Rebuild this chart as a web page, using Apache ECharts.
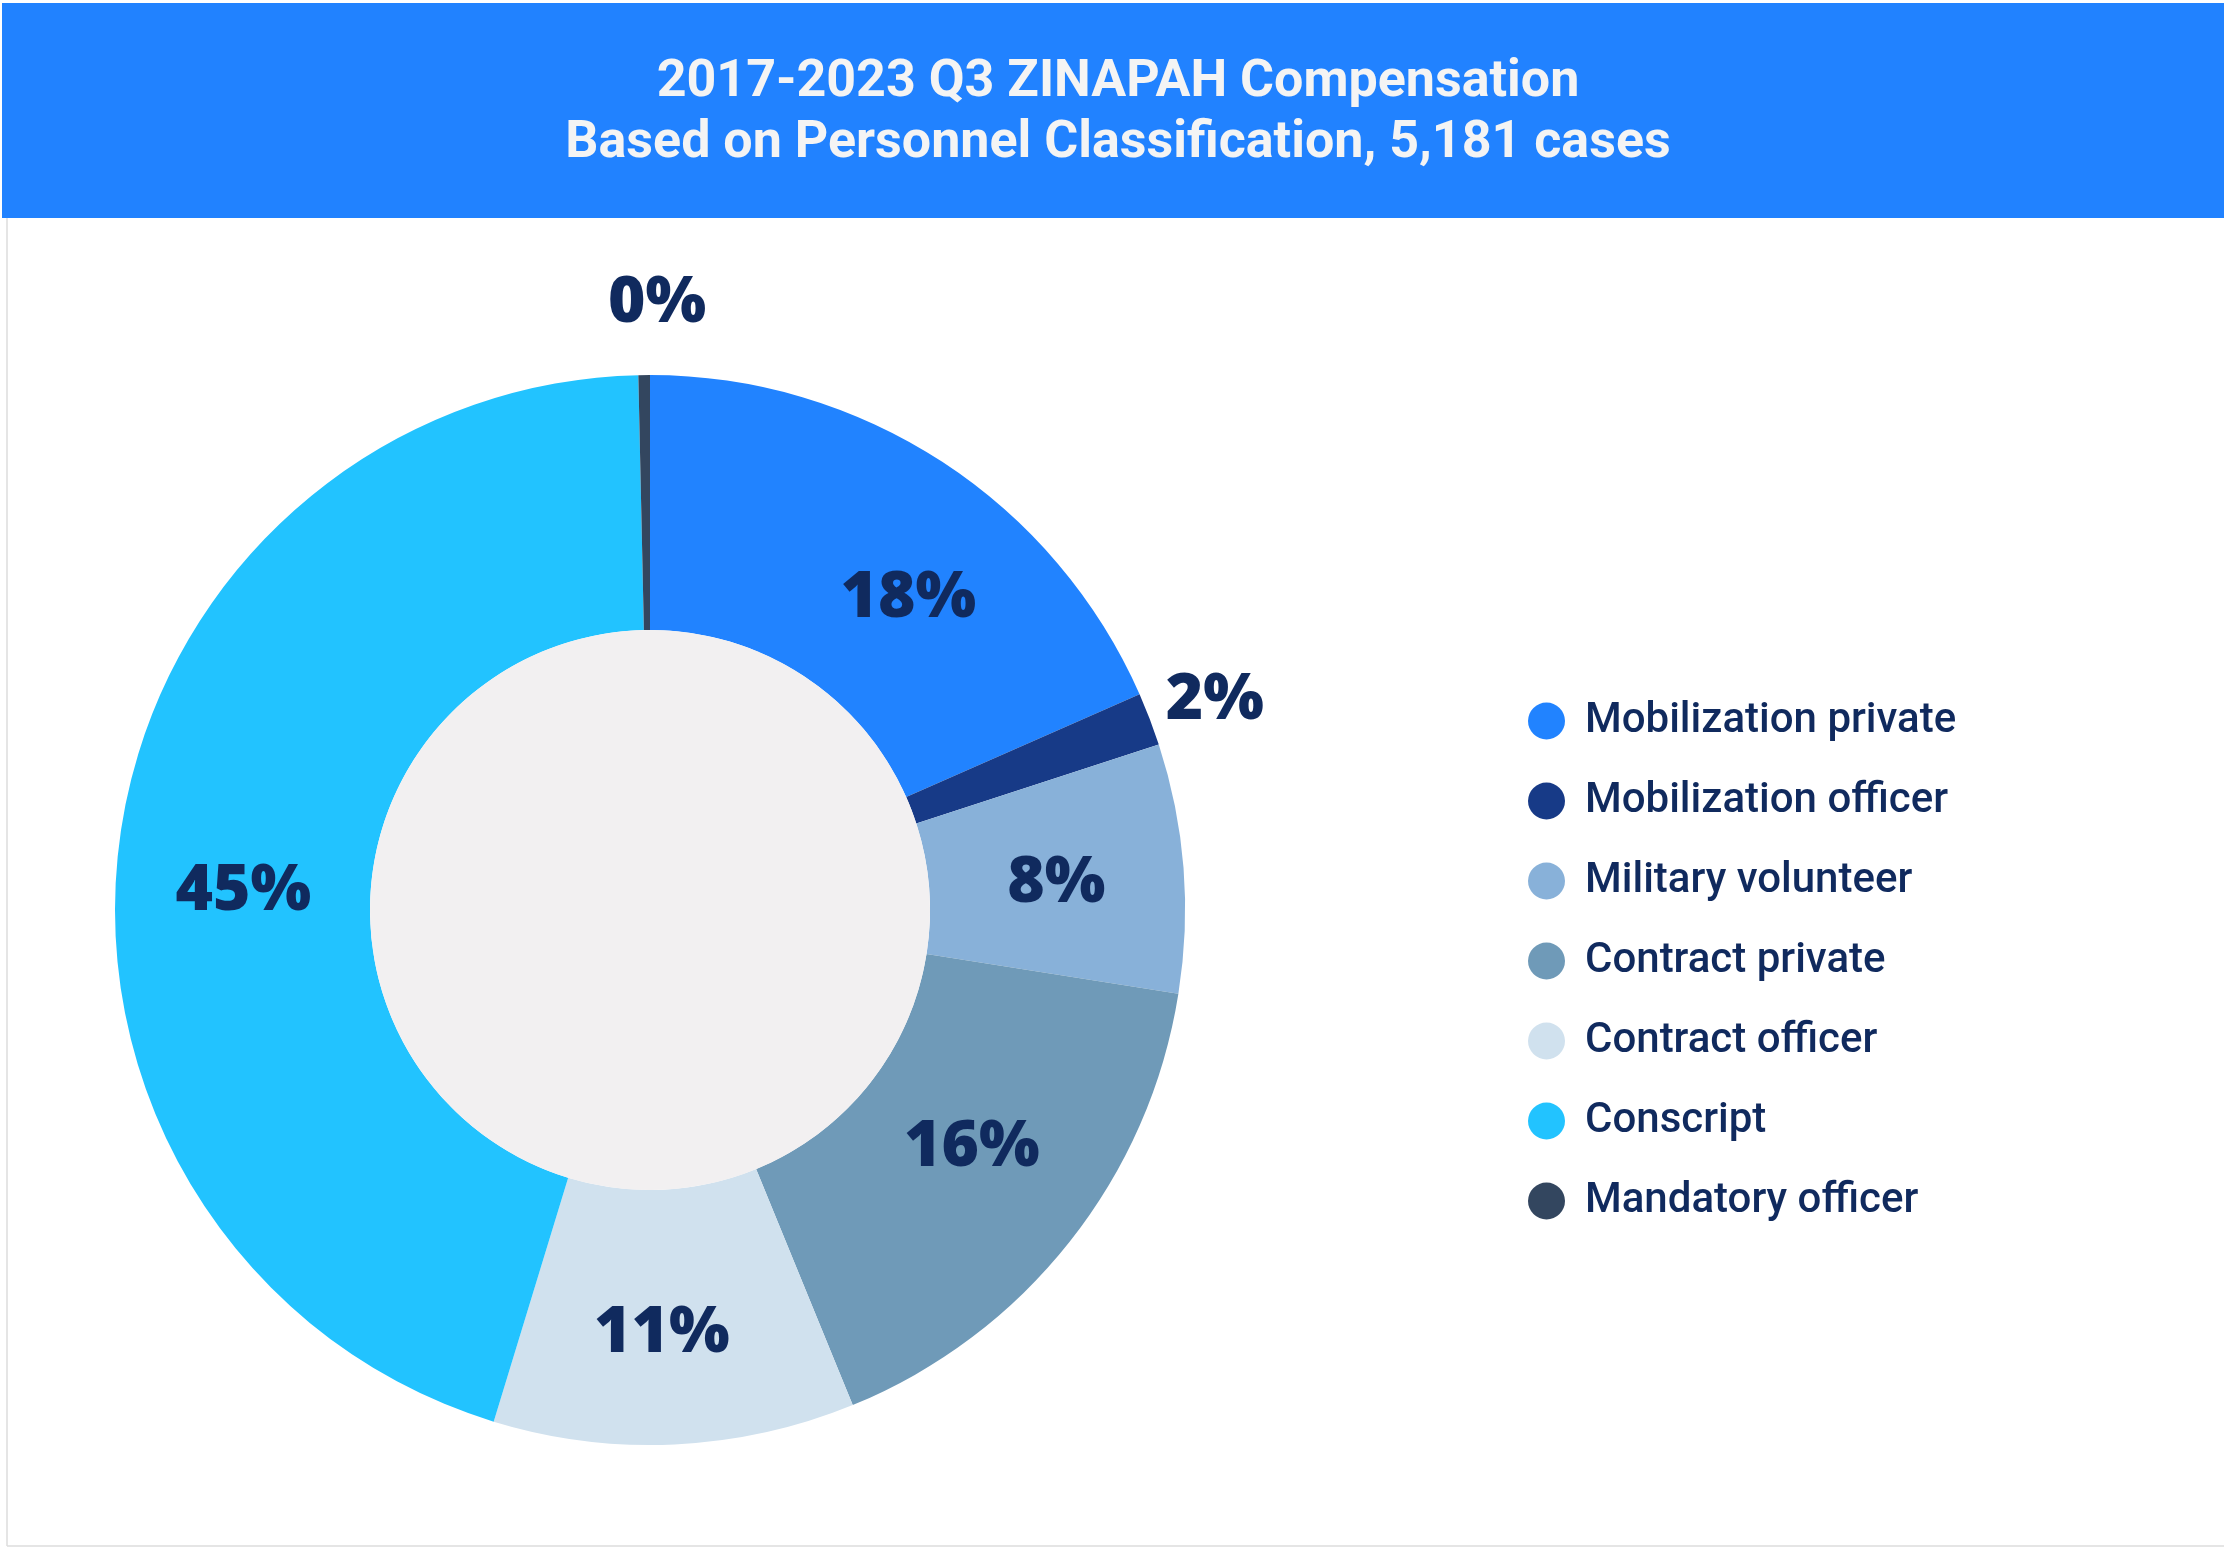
<!DOCTYPE html>
<html>
<head>
<meta charset="utf-8">
<script src="https://cdn.jsdelivr.net/npm/echarts@6/dist/echarts.min.js"></script>
<style>
html,body{margin:0;padding:0;background:#ffffff;}
#chart{width:2224px;height:1547px;}
</style>
</head>
<body>
<div id="chart"></div>
<script>
// ---- data ----
const titleLines = ['2017-2023 Q3 ZINAPAH Compensation', 'Based on Personnel Classification, 5,181 cases'];
const categories = ['Mobilization private', 'Mobilization officer', 'Military volunteer', 'Contract private', 'Contract officer', 'Conscript', 'Mandatory officer'];
const caseCounts = [953, 83, 389, 845, 565, 2328, 18];
const sliceColors = ['#2183FF', '#173A87', '#88B1D9', '#6F9AB8', '#D0E1EE', '#22C3FF', '#33465F'];
const outsideLabelCategories = ['Mobilization officer', 'Mandatory officer'];

// ---- styling ----
const navy = '#102A5E';
const labelTweaks = {
  'Mobilization private': { dx: 34, dy: 33 },
  'Mobilization officer': { dx: 60, dy: -18, align: 'center' },
  'Military volunteer': { dx: -3, dy: 6 },
  'Contract private': { dx: 0, dy: -17 },
  'Contract officer': { dx: -7, dy: 14 },
  'Conscript': { dx: 0, dy: 38 },
  'Mandatory officer': { dx: 18, dy: -71, align: 'center' }
};

const chart = echarts.init(document.getElementById('chart'), null, { renderer: 'canvas' });

const pieData = categories.map((name, i) => {
  const item = { name: name, value: caseCounts[i], itemStyle: { color: sliceColors[i] } };
  if (outsideLabelCategories.indexOf(name) >= 0) {
    item.label = { position: 'outside' };
    item.labelLine = { show: false, length: 0, length2: 0 };
  }
  return item;
});

const option = {
  backgroundColor: '#ffffff',
  animation: false,
  graphic: {
    elements: [
      { type: 'rect', z: -10, shape: { x: 2, y: 3, width: 2222, height: 215 }, style: { fill: '#2182FF' } },
      { type: 'line', z: -10, shape: { x1: 7, y1: 218, x2: 7, y2: 1546 }, style: { stroke: '#DCDCDC', lineWidth: 1.5 } },
      { type: 'line', z: -10, shape: { x1: 7, y1: 1546, x2: 2224, y2: 1546 }, style: { stroke: '#DCDCDC', lineWidth: 1.5 } }
    ]
  },
  title: {
    text: titleLines.join('\n'),
    left: 1113,
    top: 47,
    textAlign: 'center',
    textStyle: {
      color: '#F4F4F4',
      fontFamily: 'Roboto',
      fontWeight: 'bold',
      fontSize: 52,
      lineHeight: 61
    }
  },
  legend: {
    orient: 'vertical',
    left: 1523,
    top: 694,
    icon: 'circle',
    itemWidth: 37,
    itemHeight: 37,
    itemGap: 36,
    data: categories,
    selectedMode: false,
    textStyle: {
      color: navy,
      fontFamily: 'Roboto',
      fontWeight: 500,
      fontSize: 42,
      lineHeight: 44,
      padding: [0, 0, 0, 15]
    }
  },
  series: [
    {
      type: 'pie',
      name: 'Personnel',
      center: [650, 910],
      radius: [280, 535],
      startAngle: 90,
      clockwise: true,
      avoidLabelOverlap: false,
      silent: true,
      label: {
        show: true,
        position: 'inside',
        formatter: function (p) { return Math.round(p.percent) + '%'; },
        color: navy,
        fontFamily: '"Open Sans"',
        fontWeight: 800,
        fontSize: 64
      },
      labelLine: { show: false },
      labelLayout: function (params) {
        const name = categories[params.dataIndex];
        const t = labelTweaks[name];
        if (!t) return {};
        const out = { dx: t.dx, dy: t.dy };
        if (t.align) out.align = t.align;
        return out;
      },
      data: pieData
    },
    {
      type: 'pie',
      name: 'hole',
      center: [650, 910],
      radius: [0, 280],
      silent: true,
      label: { show: false },
      labelLine: { show: false },
      data: [{ name: 'hole', value: 1, itemStyle: { color: '#F2F0F1' } }]
    }
  ]
};

chart.setOption(option);
</script>
</body>
</html>
